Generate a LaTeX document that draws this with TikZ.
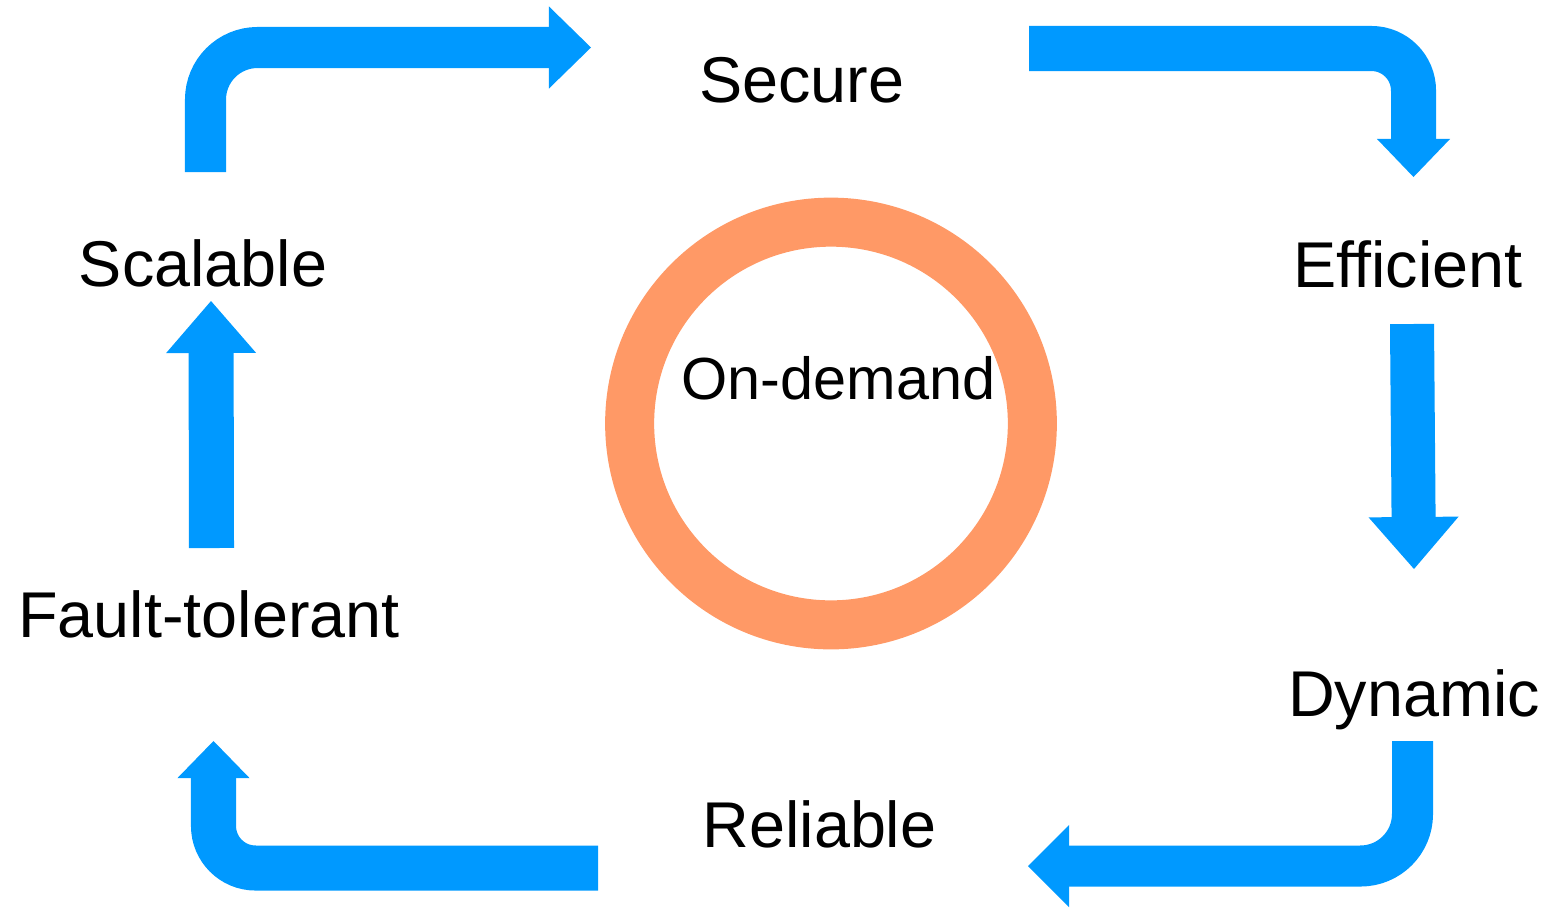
\documentclass[tikz,border=0pt]{standalone}
\usepackage{fontspec}
\setmainfont{Liberation Sans}
\usepackage{xcolor}
\usepackage{tikz}
\usetikzlibrary{arrows.meta}
\usetikzlibrary{positioning}
\definecolor{flowblue}{RGB}{0,153,255}
\definecolor{ringorange}{RGB}{255,153,102}
\tikzset{
  prop_t/.style = {anchor=base, inner sep=0pt,
    font=\fontsize{18.4}{22}\selectfont},% property label
  hub_t/.style = {prop_t, font=\fontsize{16.9}{20}\selectfont},% label in the ring
  hub_o/.style = {circle, draw=ringorange, line width=0.49cm,
    minimum size=4.025cm, inner sep=0pt},% ring
  flow_a/.style n args = {4}{flowblue, line width=#1, rounded corners=#2,
    -{Triangle[width=#3, length=#4, line width=0pt]}}% bent block arrow
}

\begin{document}
\begin{tikzpicture}[x=0.01cm, y=-0.01cm]
\useasboundingbox (0,0) rectangle (1548,908);

\node [hub_o] (hub) at (831,423.5) {};
\node [hub_t] (dem) at (838.5,399) {On-demand};

\node [prop_t] (sec) at (802,102) {Secure};
\node [prop_t] (eff) at (1408,287) {Efficient};
\node [prop_t] (dyn) at (1414,716) {Dynamic};
\node [prop_t] (rel) at (819.5,847) {Reliable};
\node [prop_t] (flt) at (209,637) {Fault-tolerant};
\node [prop_t] (scl) at (203,286) {Scalable};

% arrow ends, _o = leaving, _i = arriving
\coordinate (scl_o) at (205.5,172);
\coordinate (sec_i) at (591,47.5);
\coordinate (sec_o) at (1029,48.5);
\coordinate (eff_i) at (1413.5,177);
\coordinate (eff_o) at (1412,324);
\coordinate (dyn_i) at (1414,569);
\coordinate (dyn_o) at (1412.5,741);
\coordinate (rel_i) at (1028,866);
\coordinate (rel_o) at (598,868);
\coordinate (flt_i) at (213.5,741);
\coordinate (flt_o) at (211.5,548);
\coordinate (scl_i) at (211,301);

\draw [flow_a={0.41cm}{0.52cm}{0.82cm}{0.42cm}] (scl_o) |- (sec_i);
\draw [flow_a={0.45cm}{0.42cm}{0.73cm}{0.38cm}] (sec_o) -| (eff_i);
\draw [flow_a={0.44cm}{0pt}{0.90cm}{0.52cm}] (eff_o) -- (dyn_i);
\draw [flow_a={0.41cm}{0.52cm}{0.82cm}{0.41cm}] (dyn_o) |- (rel_i);
\draw [flow_a={0.45cm}{0.42cm}{0.72cm}{0.37cm}] (rel_o) -| (flt_i);
\draw [flow_a={0.45cm}{0pt}{0.90cm}{0.52cm}] (flt_o) -- (scl_i);
\end{tikzpicture}
\end{document}
